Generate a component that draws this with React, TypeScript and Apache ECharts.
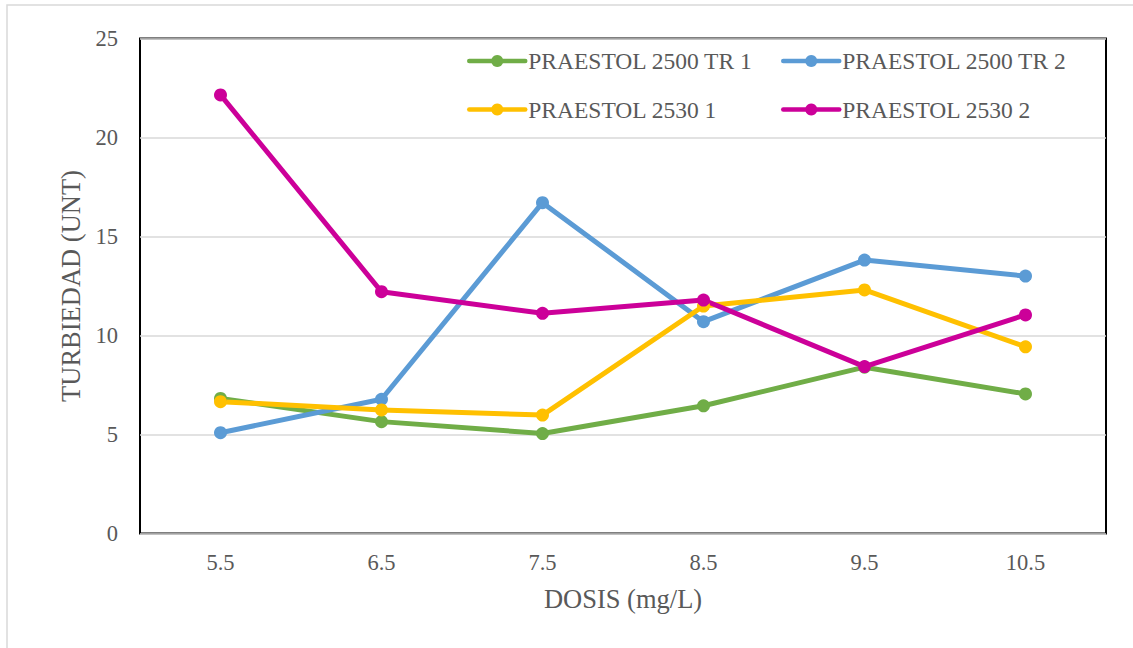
import React, { useEffect, useRef } from "react";
import * as echarts from "echarts";

const categories = ["5.5", "6.5", "7.5", "8.5", "9.5", "10.5"];
const seriesNames = ["PRAESTOL 2500 TR 1", "PRAESTOL 2500 TR 2", "PRAESTOL 2530 1", "PRAESTOL 2530 2"];
const tr1 = [6.82, 5.65, 5.05, 6.45, 8.4, 7.05];
const tr2 = [5.09, 6.78, 16.71, 10.7, 13.81, 13.0];
const p2530a = [6.66, 6.24, 5.98, 11.49, 12.3, 9.43];
const p2530b = [22.15, 12.21, 11.12, 11.79, 8.43, 11.04];
const colors = ["#70AD47", "#5B9BD5", "#FFC000", "#CC0099"];
const yTicks = { min: 0, max: 25, interval: 5 };

const FONT = "'Liberation Serif', 'Times New Roman', serif";

export default function App() {
  const ref = useRef<HTMLDivElement>(null);
  useEffect(() => {
    if (!ref.current) return;
    const chart = echarts.init(ref.current, null, { renderer: "svg" });
    const allData = [tr1, tr2, p2530a, p2530b];
    const legendCommon = {
      orient: "vertical",
      padding: 0,
      itemWidth: 56,
      itemHeight: 15,
      itemGap: 24.5,
      itemStyle: { borderWidth: 0 },
      lineStyle: { width: 4.5, cap: "round" },
      textStyle: { fontFamily: FONT, fontSize: 23.5, color: "#595959", padding: [0, 0, 0, -2] },
      selectedMode: false,
    };
    chart.setOption({
      animation: false,
      backgroundColor: "#ffffff",
      graphic: [
        {
          type: "rect",
          shape: { x: 7, y: 5, width: 1200, height: 700 },
          style: { fill: "none", stroke: "#d9d9d9", lineWidth: 1.5 },
          silent: true,
        },
      ],
      grid: {
        left: 140,
        top: 38.5,
        width: 966,
        height: 495,
        show: true,
        borderColor: "#000000",
        borderWidth: 2,
        backgroundColor: "transparent",
      },
      legend: [
        { ...legendCommon, left: 467, top: 49, data: [seriesNames[0], seriesNames[2]] },
        { ...legendCommon, left: 781, top: 49, data: [seriesNames[1], seriesNames[3]] },
      ],
      xAxis: {
        type: "category",
        data: categories,
        boundaryGap: true,
        axisLine: { show: false },
        axisTick: { show: false },
        axisLabel: { fontFamily: FONT, fontSize: 22.5, color: "#595959", margin: 17 },
        name: "DOSIS (mg/L)",
        nameLocation: "middle",
        nameGap: 52,
        nameTextStyle: { fontFamily: FONT, fontSize: 26.5, color: "#595959" },
      },
      yAxis: {
        type: "value",
        min: yTicks.min,
        max: yTicks.max,
        interval: yTicks.interval,
        axisLine: { show: false },
        axisTick: { show: false },
        splitLine: { lineStyle: { color: "#d9d9d9", width: 1.5 } },
        axisLabel: { fontFamily: FONT, fontSize: 22.5, color: "#595959", margin: 22 },
        name: "TURBIEDAD (UNT)",
        nameLocation: "middle",
        nameGap: 52,
        nameTextStyle: { fontFamily: FONT, fontSize: 26.5, color: "#595959" },
      },
      series: seriesNames.map((name, i) => ({
        name,
        type: "line",
        data: allData[i],
        symbol: "circle",
        symbolSize: 13,
        color: colors[i],
        lineStyle: { width: 5, color: colors[i], cap: "round", join: "round" },
        itemStyle: { color: colors[i] },
      })),
    });
    return () => chart.dispose();
  }, []);
  return (
    <div
      ref={ref}
      style={{ position: "fixed", left: 0, top: 0, width: 1133, height: 648, background: "#fff" }}
    />
  );
}
